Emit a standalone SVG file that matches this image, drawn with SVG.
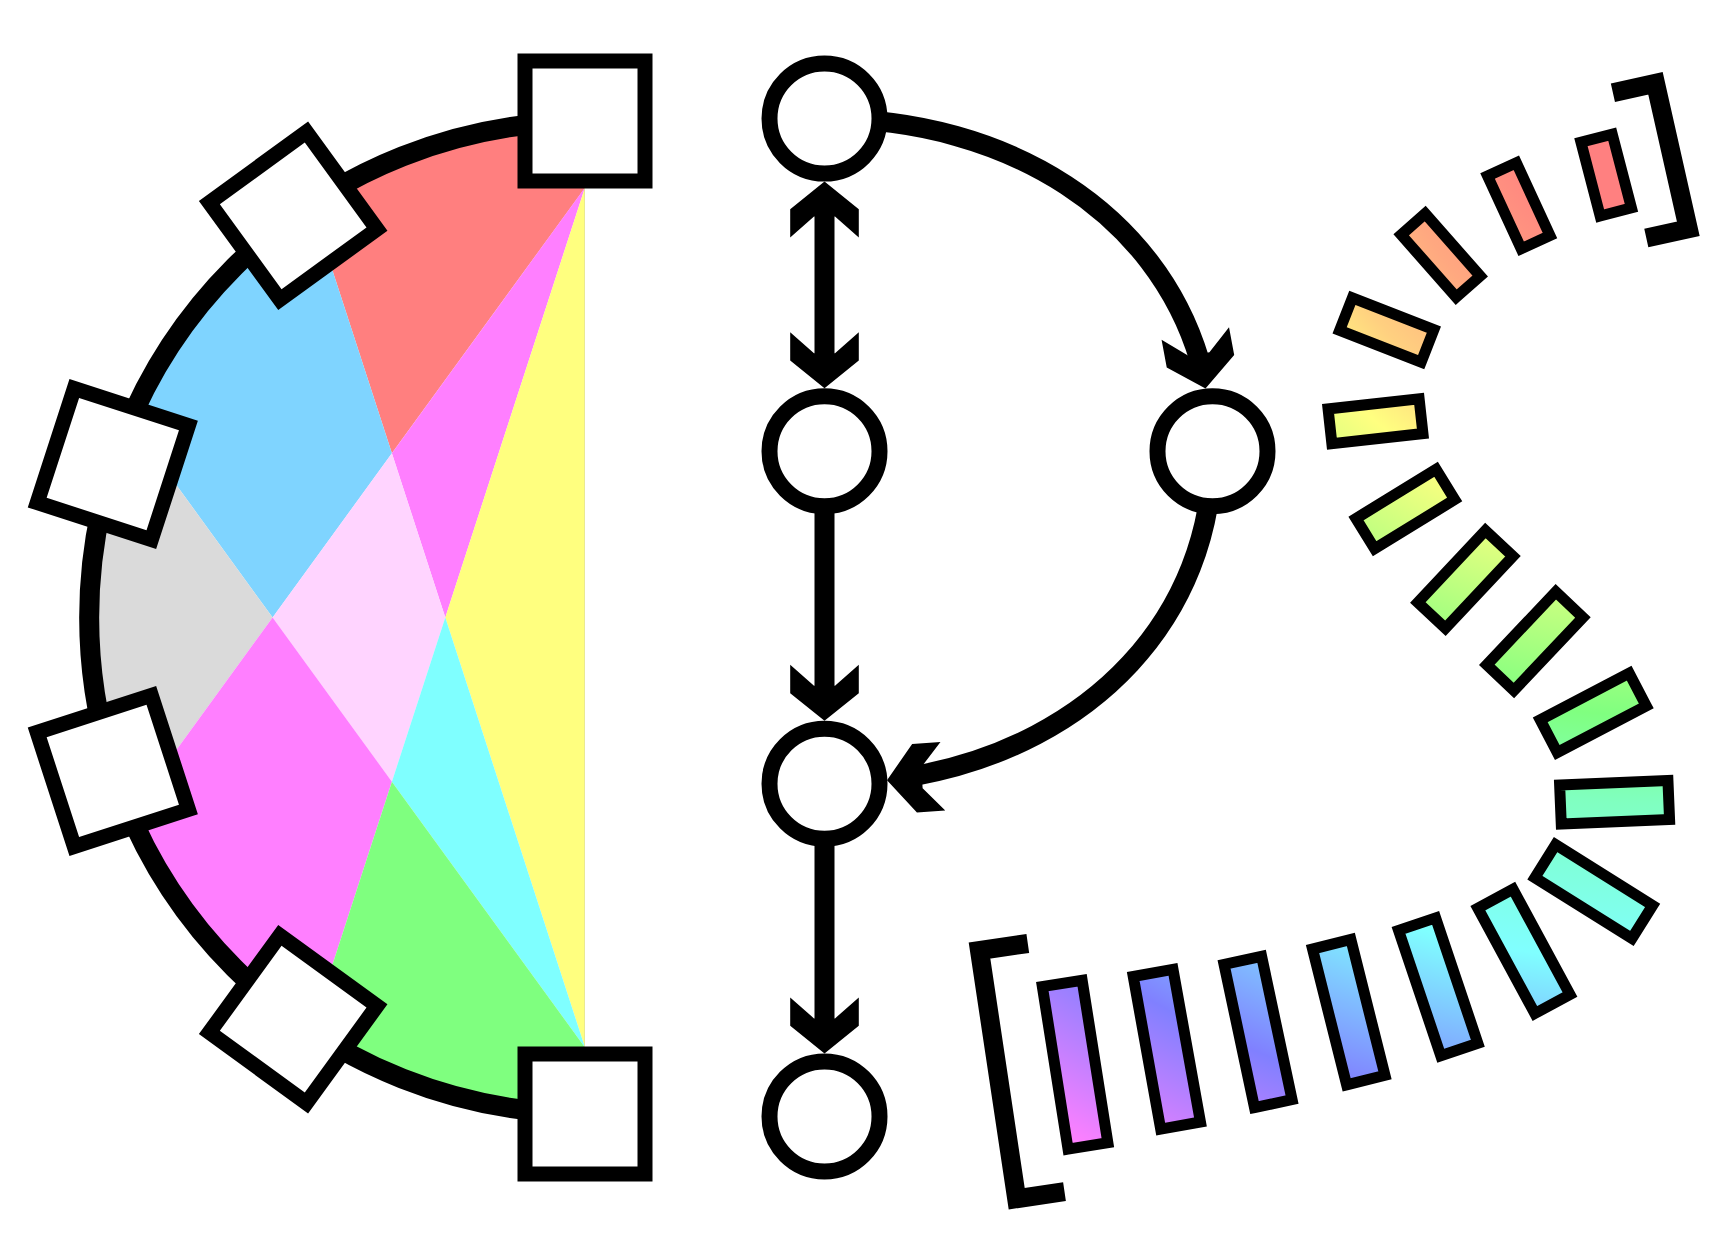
<svg xmlns="http://www.w3.org/2000/svg" xmlns:xlink="http://www.w3.org/1999/xlink" width="1726" height="1234" viewBox="0 0 1726 1234">
<style>
.sq{fill:#fff;stroke:#000;stroke-width:15;stroke-linejoin:miter}
.nd{fill:#fff;stroke:#000;stroke-width:16}
.ln{fill:none;stroke:#000;stroke-width:20}
.bar{fill:url(#rg);stroke:#000;stroke-width:11;stroke-linejoin:miter}
.br{fill:none;stroke:#000;stroke-width:19;stroke-linejoin:miter;stroke-linecap:butt}
</style>
<defs>
<clipPath id="half"><path d="M585,121.5 A496,496 0 0 0 585,1113.5 Z"/></clipPath>
<path id="ah" d="M0,0 L-27.6,-34.3 L-56,-34.3 L-35,-10.5 L-35,10.5 L-56,34.3 L-27.6,34.3 Z" fill="#000"/>
<radialGradient id="rg" gradientUnits="userSpaceOnUse" cx="1650" cy="100" r="1200" fx="1650" fy="100">
<stop offset="0" stop-color="#ff8080"/>
<stop offset="0.1" stop-color="#ff8080"/>
<stop offset="0.217" stop-color="#ffa880"/>
<stop offset="0.292" stop-color="#ffd080"/>
<stop offset="0.352" stop-color="#ffff80"/>
<stop offset="0.513" stop-color="#80ff80"/>
<stop offset="0.586" stop-color="#80ffc0"/>
<stop offset="0.717" stop-color="#80ffff"/>
<stop offset="0.858" stop-color="#8080ff"/>
<stop offset="0.992" stop-color="#ff80ff"/>
<stop offset="1" stop-color="#ff80ff"/>
</radialGradient>
</defs>
<rect width="1726" height="1234" fill="#fff"/>

<g id="pie" clip-path="url(#half)">
<polygon fill="#ff7f7f" points="391.9,453.3 79.5,-508 994,-375"/>
<polygon fill="#ff7fff" points="585,187.5 391.9,453.3 445.3,617.5"/>
<polygon fill="#ffff7f" points="585,187.5 445.3,617.5 585,1047.5 600,1047.5 600,187.5"/>
<polygon fill="#7fd4ff" points="391.9,453.3 272.6,617.5 -232.9,-78.3 79.5,-508"/>
<polygon fill="#ffd4ff" points="391.9,453.3 445.3,617.5 391.9,781.7 272.6,617.5"/>
<polygon fill="#dadada" points="272.6,617.5 -232.9,-78.3 -232.9,1313.3"/>
<polygon fill="#ff7fff" points="272.6,617.5 -232.9,1313.3 79.5,1743.3 391.9,781.7"/>
<polygon fill="#7fffff" points="445.3,617.5 391.9,781.7 585,1047.5"/>
<polygon fill="#7fff7f" points="391.9,781.7 79.5,1743.3 994,1610.4"/>
<line x1="585" y1="188" x2="585" y2="1047" stroke="#dcdc9c" stroke-width="1.2"/>
</g>
<g id="pie-arc">
<path class="ln" d="M585,121.5 A496,496 0 0 0 585,1113.5"/>
</g>
<g id="sq0"><rect class="sq" x="-60" y="-60" width="120" height="120" transform="translate(585,121)"/></g>
<g id="sq1"><rect class="sq" x="-60" y="-60" width="120" height="120" transform="translate(293.17,215.83) rotate(-36)"/></g>
<g id="sq2"><rect class="sq" x="-60" y="-60" width="120" height="120" transform="translate(112.81,464.07) rotate(-72)"/></g>
<g id="sq3"><rect class="sq" x="-60" y="-60" width="120" height="120" transform="translate(112.81,770.93) rotate(-108)"/></g>
<g id="sq4"><rect class="sq" x="-60" y="-60" width="120" height="120" transform="translate(293.17,1019.17) rotate(-144)"/></g>
<g id="sq5"><rect class="sq" x="-60" y="-60" width="120" height="120" transform="translate(585,1114)"/></g>

<g id="connectors">
<line class="ln" x1="824.5" y1="211.6" x2="824.5" y2="358.2"/>
<line class="ln" x1="824.5" y1="451.2" x2="824.5" y2="690.8"/>
<line class="ln" x1="824.5" y1="783.8" x2="824.5" y2="1023.4"/>
<path class="ln" d="M824.5,118.6 C1011.93,118.6 1156.33,215.54 1199.33,359.41"/>
<path class="ln" d="M1212.5,451.2 C1212.5,617.09 1091.95,743.64 915.07,775.82"/>
<use xlink:href="#ah" transform="translate(824.5,181.6) rotate(-90)"/>
<use xlink:href="#ah" transform="translate(824.5,388.2) rotate(90)"/>
<use xlink:href="#ah" transform="translate(824.5,720.8) rotate(90)"/>
<use xlink:href="#ah" transform="translate(824.5,1053.4) rotate(90)"/>
<use xlink:href="#ah" transform="translate(1205.5,388.5) rotate(79.5)"/>
<use xlink:href="#ah" transform="translate(887,780.2) rotate(176)"/>
</g>

<g id="n1"><circle class="nd" cx="824.5" cy="118.6" r="55"/></g>
<g id="n2"><circle class="nd" cx="824.5" cy="451.2" r="55"/></g>
<g id="n3"><circle class="nd" cx="1212.5" cy="451.2" r="55"/></g>
<g id="n4"><circle class="nd" cx="824.5" cy="783.8" r="55"/></g>
<g id="n5"><circle class="nd" cx="824.5" cy="1116.4" r="55"/></g>

<g id="bars">
<polygon class="bar" points="1600.18,216.04 1631.44,207.9 1612.22,134.16 1580.96,142.3"/>
<polygon class="bar" points="1521.16,248.76 1549.94,235.46 1516.34,162.74 1487.56,176.04"/>
<polygon class="bar" points="1456.21,297.18 1480.21,276.02 1425.19,213.62 1401.19,234.78"/>
<polygon class="bar" points="1421.12,362.21 1433.86,329.71 1352.38,297.79 1339.64,330.29"/>
<polygon class="bar" points="1422.94,433.57 1419.12,398.87 1328.06,408.93 1331.88,443.63"/>
<polygon class="bar" points="1454.71,499.53 1436.05,469.21 1355.99,518.47 1374.65,548.79"/>
<polygon class="bar" points="1512.96,556.31 1485.4,530.43 1417.84,602.39 1445.4,628.27"/>
<polygon class="bar" points="1582.93,617.45 1555.83,591.83 1486.77,664.85 1513.87,690.47"/>
<polygon class="bar" points="1646.29,705.94 1629.19,673.24 1540.21,719.76 1557.31,752.46"/>
<polygon class="bar" points="1669.57,819.51 1667.93,780.55 1559.63,785.09 1561.27,824.05"/>
<polygon class="bar" points="1631.89,938.49 1652.61,905.45 1555.61,844.61 1534.89,877.65"/>
<polygon class="bar" points="1534.84,1013.48 1569.94,994.5 1512.96,889.12 1477.86,908.1"/>
<polygon class="bar" points="1440.76,1055.69 1477.82,1043.21 1435.64,917.91 1398.58,930.39"/>
<polygon class="bar" points="1346.64,1084.9 1384.96,1075.28 1350.86,939.5 1312.54,949.12"/>
<polygon class="bar" points="1254.49,1107.57 1292.05,1099.59 1261.61,956.39 1224.05,964.37"/>
<polygon class="bar" points="1160.7,1129.11 1200.46,1121.95 1173.0,969.39 1133.24,976.55"/>
<polygon class="bar" points="1068.06,1149.09 1107.86,1142.79 1082.14,980.31 1042.34,986.61"/>
<polyline class="br" points="1612.9,92.8 1655.5,83.3 1688.3,228.8 1646.3,238"/>
<polyline class="br" points="1027.8,943.5 979.5,950.5 1016.7,1198.7 1064.5,1191.7"/>
</g>
</svg>
